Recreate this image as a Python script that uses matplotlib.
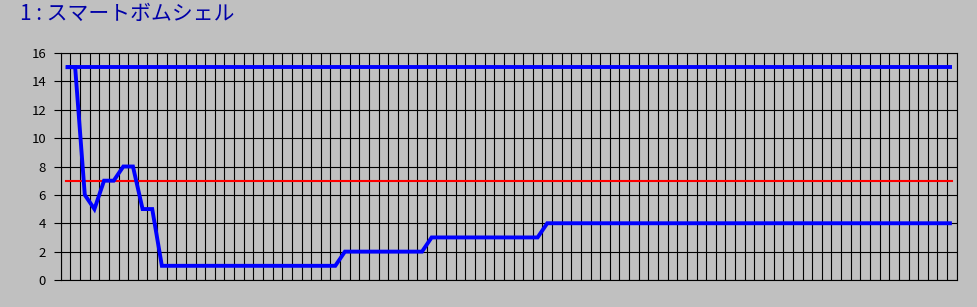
#!/usr/bin/env python3

import numpy as np
import matplotlib.pyplot as plt

plt.rcParams['font.family'] = ['Noto Sans CJK JP', 'DejaVu Sans']

title = '1 : スマートボムシェル'

# one value per category, 93 categories
max_line = [15] * 93
limit_line = [7] * 93
count_line = ([15, 15, 6, 5, 7, 7, 8, 8, 5, 5]
              + [1] * 19
              + [2] * 9
              + [3] * 12
              + [4] * 43)
y_ticks = list(range(0, 17, 2))


def main():
    fig = plt.figure(figsize=(9.77, 3.07), dpi=100, facecolor='#c0c0c0')
    ax = fig.add_axes([60.7 / 977, 27 / 307, 896 / 977, 227 / 307])
    ax.set_facecolor('#c0c0c0')

    n = len(max_line)
    x = np.arange(n)

    ax.plot(x, limit_line, color='#ff0000', lw=1.5, zorder=3)
    ax.plot(x, max_line, color='#0000ff', lw=2.8, zorder=4,
            solid_capstyle='butt')
    ax.plot(x, count_line, color='#0000ff', lw=2.8, zorder=5,
            solid_capstyle='butt', solid_joinstyle='miter')

    ax.set_xlim(-0.5, n - 0.5)
    ax.set_ylim(0, 16)
    ax.set_xticks(np.arange(-0.5, n))
    ax.set_xticklabels([])
    ax.set_yticks(y_ticks)
    ax.tick_params(axis='x', length=0)
    ax.tick_params(axis='y', direction='out', length=5, width=0.8,
                   labelsize=9.5, pad=5.5, colors='black')
    ax.grid(True, color='black', lw=0.8, zorder=1)
    ax.set_axisbelow(True)
    for s in ax.spines.values():
        s.set_color('black')
        s.set_linewidth(0.8)

    fig.text(20 / 977, 1 - 14 / 307, title, color='#0000a8', fontsize=15,
             ha='left', va='center', family='Noto Sans CJK JP')

    fig.savefig('out.png', dpi=100, facecolor=fig.get_facecolor())


if __name__ == "__main__":
    main()
